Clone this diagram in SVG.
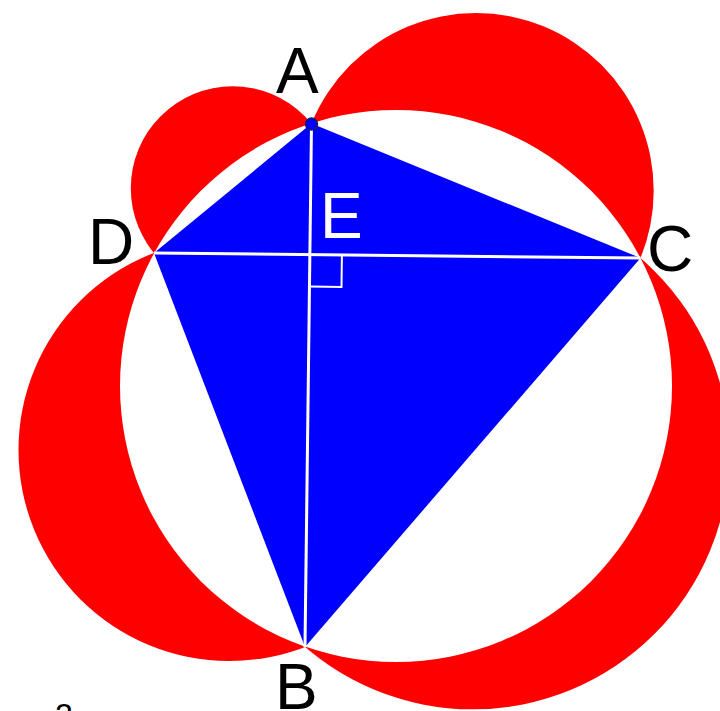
<svg xmlns="http://www.w3.org/2000/svg" width="720" height="711" viewBox="0 0 720 711">
<style>
.lune{fill:#ff0000}
.lbl{font-family:"Liberation Sans",Arial,sans-serif;font-size:64px;fill:#000}
.wl{stroke:#ffffff;stroke-width:3;fill:none}
</style>
<rect width="720" height="711" fill="#ffffff"/>
<g id="lunes">
<circle class="lune" cx="232.75" cy="188.25" r="101.95"/>
<circle class="lune" cx="476" cy="190.75" r="177.7"/>
<circle class="lune" cx="229.5" cy="450" r="211"/>
<circle class="lune" cx="472.75" cy="452.5" r="256.85"/>
</g>
<g id="circumcircle">
<circle cx="396" cy="386" r="276" fill="#ffffff"/>
</g>
<g id="quad">
<polygon points="311.5,123.5 640.5,258 305,647 154,253" fill="#0000ff"/>
</g>
<g id="connectors">
<line class="wl" x1="311.5" y1="123.5" x2="305" y2="647"/>
<line class="wl" x1="154" y1="253" x2="640.5" y2="258"/>
<polyline points="341.9,254.9 341.5,286.9 309.5,286.6" fill="none" stroke="#ffffff" stroke-width="2"/>
</g>
<g id="pointA">
<circle cx="311.5" cy="124" r="6" fill="#0000ff" stroke="#1a1a66" stroke-width="1.5"/>
</g>
<g id="labels">
<text class="lbl" x="276" y="93">A</text>
<text class="lbl" x="88" y="264">D</text>
<text class="lbl" x="647" y="271">C</text>
<text class="lbl" x="275" y="709">B</text>
<text class="lbl" x="320" y="238" style="fill:#ffffff">E</text>
<text x="55" y="726" style="font-family:'Liberation Sans',Arial,sans-serif;font-size:32px;fill:#000">2</text>
</g>
</svg>
